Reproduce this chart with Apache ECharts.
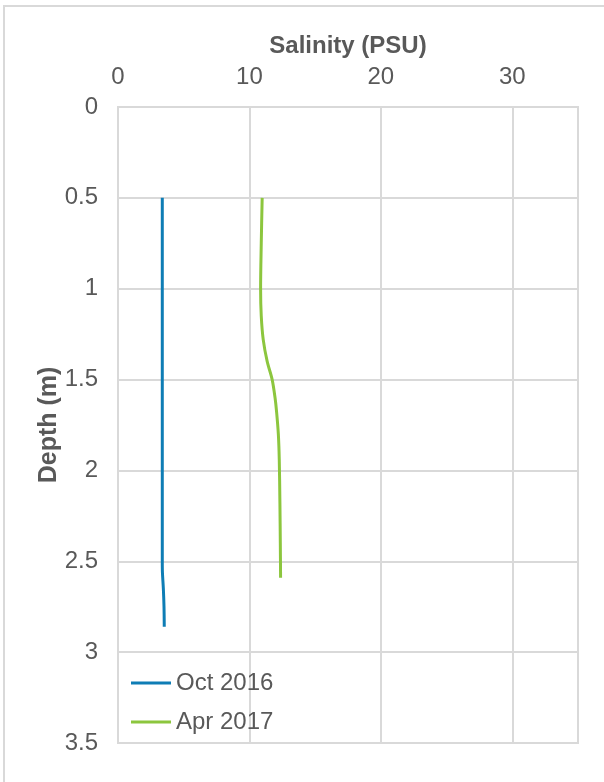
<!DOCTYPE html>
<html>
<head>
<meta charset="utf-8">
<script src="https://cdn.jsdelivr.net/npm/echarts@6/dist/echarts.min.js"></script>
<style>
  html, body { margin: 0; padding: 0; background: #fff; }
  #chart { width: 604px; height: 782px; }
</style>
</head>
<body>
<div id="chart"></div>
<script>
// salinity profiles
const seriesNames = ['Oct 2016', 'Apr 2017'];
const octDepth = [0.5, 1.0, 1.5, 2.0, 2.5, 2.56, 2.65, 2.75, 2.86];
const octSalinity = [3.37, 3.37, 3.37, 3.37, 3.37, 3.38, 3.45, 3.5, 3.52];
const aprDepth = [0.5, 0.75, 1.0, 1.15, 1.28, 1.4, 1.5, 1.6, 1.68, 1.8, 1.94, 2.18, 2.4, 2.59];
const aprSalinity = [10.97, 10.9, 10.85, 10.9, 11.05, 11.35, 11.73, 11.95, 12.07, 12.2, 12.27, 12.32, 12.35, 12.37];
const xTicks = [0, 10, 20, 30];
const yTicks = [0, 0.5, 1, 1.5, 2, 2.5, 3, 3.5];

const colors = ['#0E7DB5', '#8CC63E'];
const textColor = '#595959';
const gridColor = '#D9D9D9';
const font = 'Liberation Sans, Arial, sans-serif';

function pairs(xs, ys) {
  return xs.map((x, i) => [x, ys[i]]);
}

const chart = echarts.init(document.getElementById('chart'));

let option = {
  animation: false,
  backgroundColor: '#fff',
  textStyle: { fontFamily: font },
  graphic: [
    {
      // outer chart frame, runs off the right and bottom edge
      type: 'rect',
      shape: { x: 4, y: 6, width: 800, height: 900 },
      style: { fill: 'none', stroke: gridColor, lineWidth: 2 },
      silent: true,
    },
  ],
  grid: {
    left: 118,
    top: 107,
    right: 26,
    bottom: 39,
    show: true,
    borderColor: gridColor,
    borderWidth: 2,
  },
  legend: {
    orient: 'vertical',
    left: 131,
    top: 671,
    padding: 0,
    itemWidth: 40,
    itemHeight: 14,
    itemGap: 15,
    icon: 'path://M0,6 L40,6 L40,9 L0,9 Z',
    textStyle: { color: textColor, fontSize: 24, fontFamily: font },
    data: seriesNames,
  },
  xAxis: {
    type: 'value',
    position: 'top',
    min: 0,
    max: 35,
    interval: 10,
    name: 'Salinity (PSU)',
    nameLocation: 'middle',
    nameGap: 49,
    nameMoveOverlap: false,
    nameTextStyle: { color: textColor, fontSize: 24, fontWeight: 'bold', fontFamily: font },
    axisLine: { show: false },
    axisTick: { show: false },
    axisLabel: {
      color: textColor,
      fontSize: 24,
      margin: 18,
      fontFamily: font,
      customValues: xTicks,
    },
    splitLine: { show: true, lineStyle: { color: gridColor, width: 2 } },
  },
  yAxis: {
    type: 'value',
    inverse: true,
    min: 0,
    max: 3.5,
    interval: 0.5,
    name: 'Depth (m)',
    nameLocation: 'middle',
    nameGap: 56,
    nameRotate: 90,
    nameMoveOverlap: false,
    nameTextStyle: { color: textColor, fontSize: 25, fontWeight: 'bold', fontFamily: font },
    axisLine: { show: false },
    axisTick: { show: false },
    axisLabel: {
      color: textColor,
      fontSize: 24,
      margin: 20,
      fontFamily: font,
      customValues: yTicks,
    },
    splitLine: { show: true, lineStyle: { color: gridColor, width: 2 } },
  },
  series: [
    {
      name: seriesNames[0],
      type: 'line',
      showSymbol: false,
      smooth: 0.3,
      color: colors[0],
      lineStyle: { width: 3, color: colors[0] },
      data: pairs(octSalinity, octDepth),
    },
    {
      name: seriesNames[1],
      type: 'line',
      showSymbol: false,
      smooth: 0.3,
      color: colors[1],
      lineStyle: { width: 3, color: colors[1] },
      data: pairs(aprSalinity, aprDepth),
    },
  ],
};

chart.setOption(option);
</script>
</body>
</html>
